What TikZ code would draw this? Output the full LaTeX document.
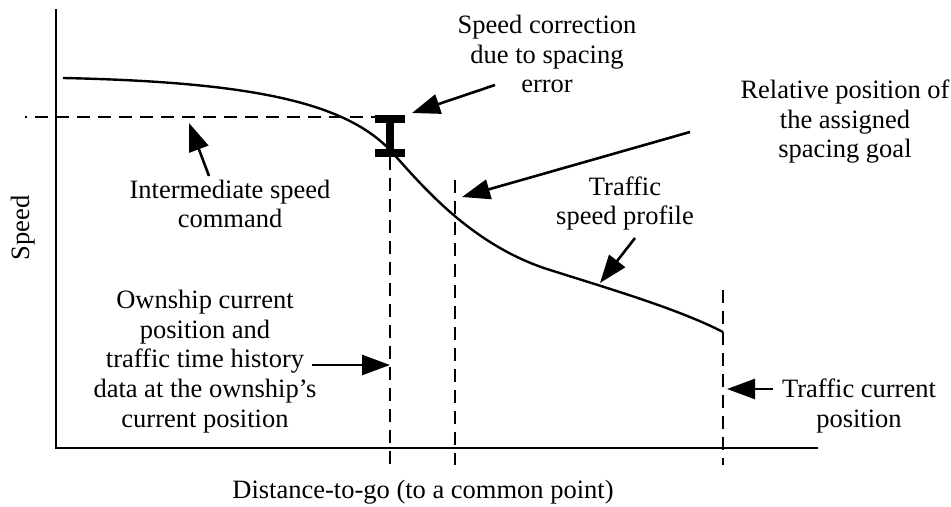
\documentclass[tikz,border=0pt]{standalone}
\usepackage{fontspec}
\setmainfont{Liberation Serif}
\usetikzlibrary{arrows.meta}

\begin{document}
\begin{tikzpicture}[x=0.5pt,y=-0.5pt,
  lbl/.style={font=\fontsize{13.25}{14.8}\selectfont,align=center,inner sep=0pt,anchor=base},
  pointer/.style={-{Triangle[length=14pt,width=10pt]},line width=1.3pt},
  guide/.style={line width=1.3pt,dash pattern=on 6.5pt off 4pt}]
\useasboundingbox (0,0) rectangle (951,507);
\coordinate (o) at (56,448);
\coordinate (ytop) at (56,9);
\coordinate (xend) at (818,448);
\draw[line width=1.4pt] (ytop) -- (o) -- (xend);
\draw[guide,dash phase=5.5pt] (25,117) -- (377,117);
\draw[guide] (390,157) -- (390,465);
\draw[guide] (455,180) -- (455,465);
\draw[guide] (723,290) -- (723,465);
\coordinate (profstart) at (63,78);
\coordinate (profmid) at (390,150);
\coordinate (profknee) at (550,270);
\coordinate (profend) at (723,332);
\draw[line width=1.2pt] (profstart) .. controls (250,82) and (344,102) .. (profmid)
  .. controls (420,183) and (470,245) .. (profknee)
  .. controls (620,292) and (680,310) .. (profend);
\draw[line width=4pt] (375,119) -- (405,119) (390,119) -- (390,153) (375,153) -- (405,153);
\node[lbl] (corr) at (547,93) {Speed correction\\due to spacing\\error};
\node[lbl] (goal) at (845,158) {Relative position of\\the assigned\\spacing goal};
\node[lbl] (cmd) at (230,228) {Intermediate speed\\command};
\node[lbl] (prof) at (625,225) {Traffic\\speed profile};
\node[lbl] (own) at (205,427) {Ownship current\\position and\\traffic time history\\data at the ownship’s\\current position};
\node[lbl] (traf) at (859,427) {Traffic current\\position};
\node[lbl] (xlab) at (423,498) {Distance-to-go (to a common point)};
\node[lbl,rotate=90] (ylab) at (29,228) {Speed};
\coordinate (corrtip) at (412,113);
\coordinate (corrtail) at (495,85);
\coordinate (goaltip) at (462,197);
\coordinate (goaltail) at (690,132);
\coordinate (cmdtip) at (189,123);
\coordinate (cmdtail) at (209,176);
\coordinate (proftip) at (600,283);
\coordinate (proftail) at (635,238);
\coordinate (owntip) at (390,365);
\coordinate (owntail) at (312,365);
\coordinate (traftip) at (727,389);
\coordinate (traftail) at (773,389);
\draw[pointer] (corrtail) -- (corrtip);
\draw[pointer] (goaltail) -- (goaltip);
\draw[pointer] (cmdtail) -- (cmdtip);
\draw[pointer] (proftail) -- (proftip);
\draw[pointer] (owntail) -- (owntip);
\draw[pointer] (traftail) -- (traftip);
\end{tikzpicture}
\end{document}
